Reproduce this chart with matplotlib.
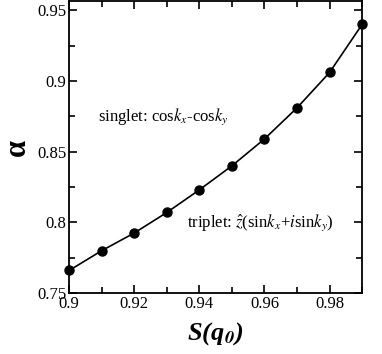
import matplotlib
matplotlib.use('Agg')
import matplotlib.pyplot as plt
from matplotlib.ticker import MultipleLocator

plt.rcParams['font.family'] = ['Liberation Serif', 'DejaVu Serif']
plt.rcParams['mathtext.fontset'] = 'stix'

# S(q0) en abscisse, alpha en ordonnee
s_q0 = [0.90, 0.91, 0.92, 0.93, 0.94, 0.95, 0.96, 0.97, 0.98, 0.99]
alpha = [0.766, 0.780, 0.7925, 0.807, 0.823, 0.840, 0.859, 0.881, 0.906, 0.940]

fig = plt.figure(figsize=(3.82, 3.54), dpi=100)
ax = fig.add_axes([0.181, 0.172, 0.767, 0.825])

ax.plot(s_q0, alpha, color='black', lw=1.2, marker='o', ms=6.5, clip_on=False, zorder=3)

ax.set_xlim(0.9, 0.99)
ax.set_ylim(0.75, 0.9565)
ax.set_xticks([0.9, 0.92, 0.94, 0.96, 0.98])
ax.set_xticklabels(['0.9', '0.92', '0.94', '0.96', '0.98'])
ax.set_yticks([0.75, 0.8, 0.85, 0.9, 0.95])
ax.set_yticklabels(['0.75', '0.8', '0.85', '0.9', '0.95'])
ax.xaxis.set_minor_locator(MultipleLocator(0.01))
ax.yaxis.set_minor_locator(MultipleLocator(0.025))
ax.tick_params(which='both', direction='in', top=True, right=True, labelsize=12, width=1.2)
ax.tick_params(which='major', length=6, pad=2)
ax.tick_params(which='minor', length=4)
for sp in ax.spines.values():
    sp.set_linewidth(1.3)

ax.set_xlabel(r'S(q$_\mathbfit{0}$)', fontsize=19, fontweight='bold', style='italic', labelpad=6)
ax.set_ylabel('α', fontsize=22, fontweight='bold', labelpad=4)

ax.text(0.9089, 0.8745, r'singlet: cos$k_x$-cos$k_y$', fontsize=12, va='center')
ax.text(0.9361, 0.800, r'triplet: $\hat{z}$(sin$k_x$+$i$sin$k_y$)', fontsize=12, va='center')

fig.savefig('out.png', dpi=100)
